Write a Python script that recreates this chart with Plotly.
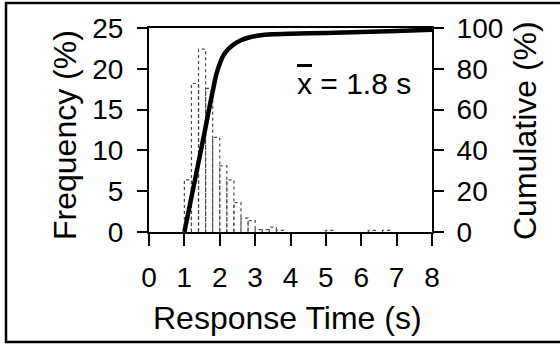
import plotly.graph_objects as go

# Histogram data (bin left edges in s, frequency in %)
bin_left = [1.0, 1.2, 1.4, 1.6, 1.8, 2.0, 2.2, 2.4, 2.6, 2.8, 3.0, 3.2, 3.4, 3.6, 5.0, 6.2, 6.6]
freq = [6.4, 18.2, 22.4, 17.6, 11.6, 8.1, 6.4, 3.6, 1.7, 1.4, 0.3, 0.3, 0.6, 0.2, 0.2, 0.2, 0.2]
bin_width = 0.2

# Cumulative curve (s, %)
cum_x = [1.0, 1.5, 1.9, 2.0, 2.1, 2.25, 2.4, 2.6, 2.8, 3.1, 3.5, 4.0, 5.0, 6.0, 7.0, 8.0]
cum_y = [0, 42.7, 77.0, 82.5, 86.5, 89.8, 92.0, 94.0, 95.2, 96.3, 96.9, 97.2, 97.6, 98.0, 98.5, 99.2]

x_ticks = [0, 1, 2, 3, 4, 5, 6, 7, 8]
y_ticks = [0, 5, 10, 15, 20, 25]
y2_ticks = [0, 20, 40, 60, 80, 100]

FONT = "Liberation Sans, Arial, Helvetica, sans-serif"

# bar outlines as a dotted path
bx, by = [], []
for l, h in zip(bin_left, freq):
    bx += [l, l, l + bin_width, l + bin_width, None]
    by += [0, h, h, 0, None]

fig = go.Figure()
fig.add_trace(go.Scatter(x=bx, y=by, mode="lines", line=dict(color="#4a4a4a", width=1.2, dash="dot"),
                         hoverinfo="skip", showlegend=False))
fig.add_trace(go.Scatter(x=cum_x, y=cum_y, mode="lines", yaxis="y2",
                         line=dict(color="black", width=4.5, shape="spline", smoothing=0.7),
                         showlegend=False))

W, H = 560, 344
L, R, T, B = 149, 128, 28, 112
pw, ph = W - L - R, H - T - B

def px(x):
    return (x - L) / pw

def py(y):
    return (H - B - y) / ph

axis_common = dict(showgrid=False, zeroline=False, showline=True, linecolor="black", linewidth=2,
                   ticks="outside", tickcolor="black", tickwidth=2,
                   tickfont=dict(family=FONT, size=28, color="black"))

fig.update_layout(
    width=W, height=H, margin=dict(l=L, r=R, t=T, b=B, autoexpand=False),
    paper_bgcolor="white", plot_bgcolor="white",
    font=dict(family=FONT, color="black"),
    xaxis=dict(range=[0, 8], tickvals=x_ticks, ticklen=12, mirror=True, ticklabelstandoff=7, **axis_common),
    yaxis=dict(range=[0, 25], tickvals=y_ticks, ticklen=10, ticklabelstandoff=8, **axis_common),
    yaxis2=dict(range=[0, 100], tickvals=y2_ticks, ticklen=10, overlaying="y", side="right",
                ticklabelstandoff=7, **axis_common),
    showlegend=False,
)

ann_font = dict(family=FONT, size=32, color="black")
fig.add_annotation(text="Frequency (%)", xref="paper", yref="paper", x=px(65), y=py(135),
                   textangle=-90, showarrow=False, font=ann_font, xanchor="center", yanchor="middle")
fig.add_annotation(text="Cumulative (%)", xref="paper", yref="paper", x=px(525), y=py(131),
                   textangle=-90, showarrow=False, font=ann_font, xanchor="center", yanchor="middle")
fig.add_annotation(text="Response Time (s)", xref="paper", yref="paper", x=px(287), y=py(318),
                   showarrow=False, font=ann_font, xanchor="center", yanchor="middle")
fig.add_annotation(text="<span style='text-decoration:overline'>x</span> = 1.8 s", xref="paper", yref="paper",
                   x=px(413), y=py(83), showarrow=False, font=dict(family=FONT, size=30, color="black"),
                   xanchor="right", yanchor="middle")

# outer border
fig.add_shape(type="rect", xref="paper", yref="paper", x0=px(6), x1=px(563), y0=py(342), y1=py(3),
              line=dict(color="black", width=2.5), layer="above")

fig.write_html("out.html")
